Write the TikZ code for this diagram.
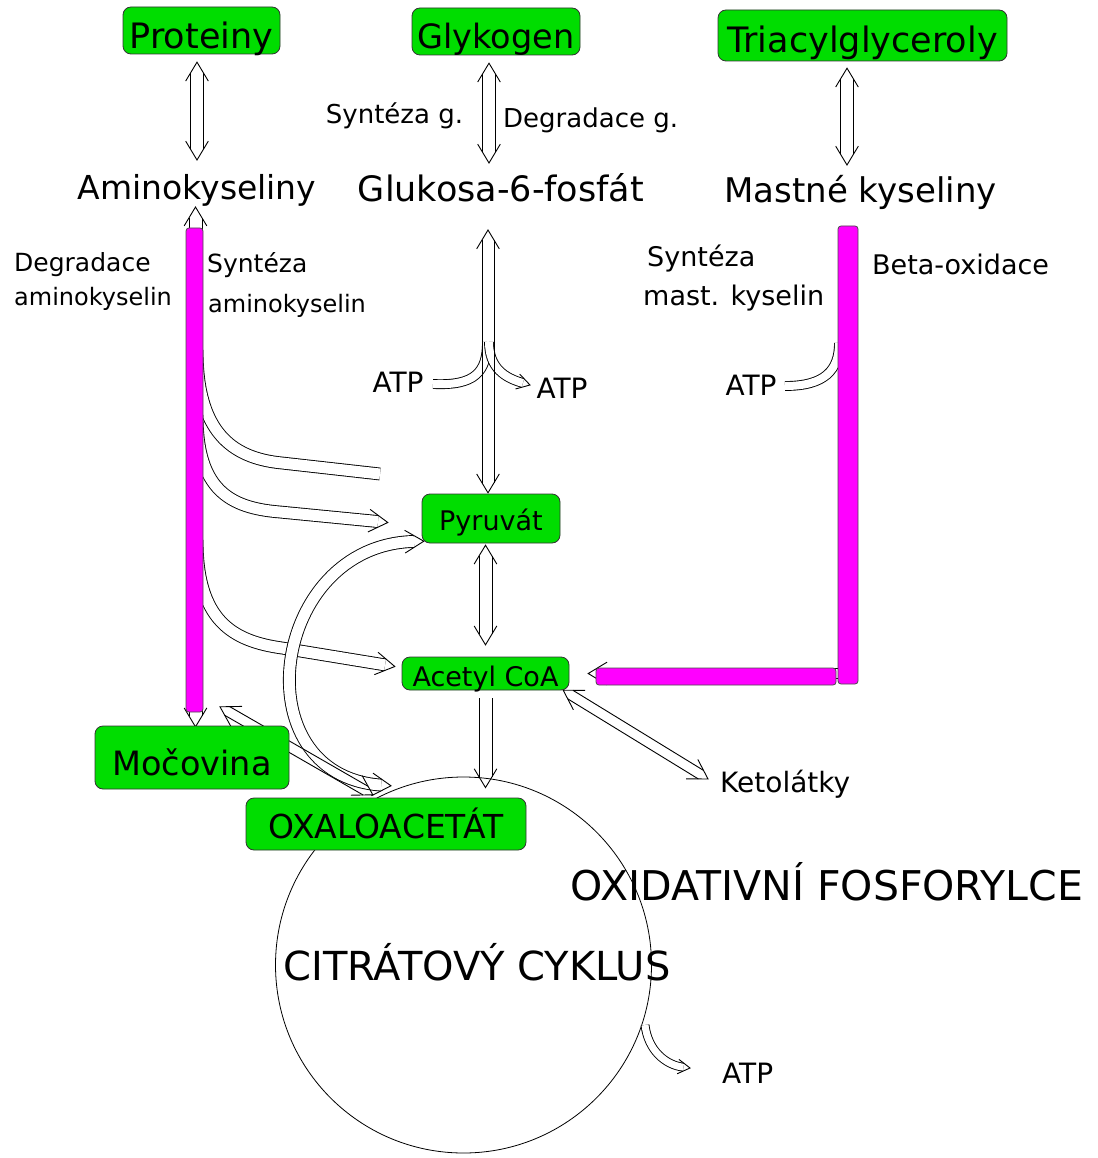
\documentclass[tikz,border=0pt]{standalone}
\usepackage{fontspec}
\setmainfont{DejaVu Sans}
\usetikzlibrary{arrows.meta,calc}
\definecolor{gfill}{RGB}{0,221,0}
\definecolor{mag}{RGB}{255,0,255}
% open chevron arrow head: [barb length]{tip}{point behind tip}
\newcommand{\ahead}[3][22pt]{\draw[headln] ($(#2)!#1!31:(#3)$) -- (#2) -- ($(#2)!#1!-31:(#3)$);}
% straight hollow shaft: {start}{end}{half width}{cut at start}{cut at end}
\newcommand{\shaft}[5]{%
  \draw[headln] ($(#1)!#4!(#2)!#3!90:(#2)$) -- ($(#2)!#5!(#1)!#3!-90:(#1)$);
  \draw[headln] ($(#1)!#4!(#2)!#3!-90:(#2)$) -- ($(#2)!#5!(#1)!#3!90:(#1)$);}
\begin{document}
\begin{tikzpicture}[x=1pt,y=-1pt,
  fs/.style={font=\fontsize{#1}{#1}\selectfont},
  gbox/.style={draw=black!80, fill=gfill, rounded corners=8pt, line width=0.8pt, inner sep=0pt, text depth=0pt},
  lbl/.style={inner sep=0pt},
  dl/.style={double=white, double distance=#1, line width=0.9pt},
  dl/.default=12pt,
  headln/.style={line width=0.9pt, line join=miter, line cap=butt},
  magbar/.style={fill=mag, draw=black!70, line width=0.8pt, rounded corners=3pt}
]
\useasboundingbox (0,0) rectangle (1097,1158);
\fill[white] (0,0) rectangle (1097,1158);

% text labels
\node[lbl, fs=33, anchor=base] (amino) at (197,200) {Aminokyseliny};
\node[lbl, fs=35, anchor=base] (g6p) at (501,202) {Glukosa-6-fosfát};
\node[lbl, fs=34, anchor=base] (mk) at (860.5,203) {Mastné kyseliny};
\node[lbl, fs=26, anchor=base] (synG) at (394.5,124) {Syntéza g.};
\node[lbl, fs=26, anchor=base west] (degG) at (503,128) {Degradace g.};
\node[lbl, fs=25, anchor=base west] (degA1) at (14,271) {Degradace};
\node[lbl, fs=24, anchor=base west] (degA2) at (14,305) {aminokyselin};
\node[lbl, fs=25, anchor=base west] (synA1) at (207,272) {Syntéza};
\node[lbl, fs=24, anchor=base west] (synA2) at (208,312) {aminokyselin};
\node[lbl, fs=27, anchor=base west] (synM1) at (647,266) {Syntéza};
\node[lbl, fs=27, anchor=base west] (synM2) at (643,305) {mast. kyselin};
\node[lbl, fs=27, anchor=base west] (beta) at (872,274) {Beta-oxidace};
\node[lbl, fs=28, anchor=base] (atp1) at (398,392) {ATP};
\node[lbl, fs=28, anchor=base] (atp2) at (562,398) {ATP};
\node[lbl, fs=28, anchor=base] (atp3) at (751,395) {ATP};
\node[lbl, fs=28, anchor=base west] (atp4) at (722,1083) {ATP};
\node[lbl, fs=28, anchor=base west] (keto) at (720,792) {Ketolátky};

% citrate cycle circle
\node[draw, circle, minimum size=376pt, inner sep=0pt, line width=0.8pt] (tca) at (463.5,965) {};
\node[lbl, fs=41, anchor=base] (oxfos) at (827,900) {OXIDATIVNÍ FOSFORYLCE};
\node[lbl, fs=40, anchor=base] (citr) at (477,980) {CITRÁTOVÝ CYKLUS};

% green boxes (geometry only, redrawn with text on top later)
\coordinate (protC) at (201.5,30.5);
\coordinate (glykC) at (496,31.5);
\coordinate (tagC) at (862.5,35.5);
\coordinate (pyrC) at (491,518.5);
\coordinate (acoaC) at (485.5,673.5);
\coordinate (mocC) at (192,757.5);
\coordinate (oaaC) at (386,824);
\path
  node[inner sep=0pt, minimum width=157pt, minimum height=47pt] (prot) at (protC) {}
  node[inner sep=0pt, minimum width=168pt, minimum height=47pt] (glyk) at (glykC) {}
  node[inner sep=0pt, minimum width=289pt, minimum height=51pt] (tag) at (tagC) {}
  node[inner sep=0pt, minimum width=138pt, minimum height=49pt] (pyr) at (pyrC) {}
  node[inner sep=0pt, minimum width=167pt, minimum height=33pt] (acoa) at (acoaC) {}
  node[inner sep=0pt, minimum width=194pt, minimum height=63pt] (moc) at (mocC) {}
  node[inner sep=0pt, minimum width=280pt, minimum height=52pt] (oaa) at (oaaC) {};

% ---- connector end points
\coordinate (a1s) at ($(prot.south -| amino.base)+(0,8)$);
\coordinate (a1e) at ($(amino.base)+(0,-40)$);
\coordinate (a2s) at ($(glyk.south)+(-7,8)$);
\coordinate (a2e) at ($(g6p.base)+(-12,-39)$);
\coordinate (a3s) at ($(tag.south)+(-15.5,7)$);
\coordinate (a3e) at ($(mk.base)+(-13.5,-38)$);
\coordinate (a4s) at ($(amino.base)+(-1.5,7)$);
\coordinate (a4e) at ($(moc.north -| amino.base)+(-1.5,1)$);
\coordinate (a5s) at ($(g6p.base)+(-13,28)$);
\coordinate (a5e) at ($(pyr.north)+(-3,-1)$);
\coordinate (a7s) at ($(pyr.south -| acoa.north)+(0,2)$);
\coordinate (a7e) at ($(acoa.north)+(0,-12)$);
\coordinate (a8s) at ($(acoa.south)+(0,8)$);
\coordinate (a8e) at ($(acoa.south |- tca.north)+(0,11)$);
\coordinate (kes) at ($(acoa.south east)+(-6,0)$);
\coordinate (kee) at ($(keto.base west)+(-12,-13)$);
\coordinate (pos) at ($(pyr.south west)+(2,-2)$);
\coordinate (poe) at ($(oaa.north)+(5,-12)$);
\coordinate (pok1) at (270,545);
\coordinate (pok2) at (240,775);
\coordinate (mos) at ($(moc.north)+(28,-19)$);
\coordinate (moe) at ($(oaa.north west)+(127,-3)$);
\coordinate (bs) at (846,673.5);
\coordinate (be) at ($(acoa.east)+(19,0)$);

% ---- ATP side curves at glucose axis
\coordinate (c1s) at ($(atp1.base)+(35,-8)$);
\coordinate (j1) at ($(g6p.base)+(-14,140)$);
\coordinate (j2) at ($(g6p.base)+(-12,140)$);
\coordinate (c2e) at ($(atp2.base)+(-32,-13)$);
\coordinate (c2k) at ($(c2e)+(-25,-7)$);
\draw[dl=8pt] (c1s) .. controls +(42,2) and +(0,30) .. (j1);
\draw[dl=8pt, shorten >=7.4pt] (j2) .. controls +(0,26) and (c2k) .. (c2e);
\ahead[15pt]{c2e}{c2k}

% ---- vertical main arrows (two-line shafts, open heads)
\shaft{a1s}{a1e}{6.5pt}{10.8pt}{10.8pt} \ahead{a1s}{a1e}\ahead{a1e}{a1s}
\shaft{a2s}{a2e}{6.5pt}{10.8pt}{10.8pt} \ahead{a2s}{a2e}\ahead{a2e}{a2s}
\shaft{a3s}{a3e}{6.5pt}{10.8pt}{10.8pt} \ahead{a3s}{a3e}\ahead{a3e}{a3s}
\shaft{a4s}{a4e}{6.5pt}{10.8pt}{10.8pt} \ahead{a4s}{a4e}\ahead{a4e}{a4s}
\shaft{a5s}{a5e}{6pt}{10pt}{10pt} \ahead{a5s}{a5e}\ahead{a5e}{a5s}
\shaft{a7s}{a7e}{6.5pt}{10.8pt}{10.8pt} \ahead{a7s}{a7e}\ahead{a7e}{a7s}
\shaft{a8s}{a8e}{6.5pt}{0pt}{10.8pt} \ahead{a8e}{a8s}

% ---- amino acid degradation curves
\coordinate (sA) at (197,350);
\coordinate (eA) at (380,474);
\coordinate (sB) at (197,415);
\coordinate (kB) at (280,512);
\coordinate (eB) at ($(pyr.west)+(-34,4)$);
\coordinate (sC) at (197,540);
\coordinate (kC) at (282,648);
\coordinate (eC) at ($(acoa.west)+(-7,-7)$);
\draw[dl=11pt] (sA) .. controls (197,430) and (230,458) .. (282,463) -- (eA);
\draw[dl=11pt, shorten >=9.9pt] (sB) .. controls (197,490) and (230,508) .. (kB) -- (eB);
\ahead{eB}{kB}
\draw[dl=11pt, shorten >=9.9pt] (sC) .. controls (197,620) and (232,641) .. (kC) -- (eC);
\ahead{eC}{kC}

% ---- other arrows
\shaft{kes}{kee}{5pt}{8.3pt}{8.3pt} \ahead{kes}{kee}\ahead{kee}{kes}
\draw[dl=11pt, shorten <=9.9pt, shorten >=9.9pt] (pos) .. controls (pok1) and (pok2) .. (poe);
\ahead{pos}{pok1}\ahead{poe}{pok2}
\shaft{mos}{moe}{5pt}{8.3pt}{8.3pt} \ahead{mos}{moe}\ahead{moe}{mos}
\shaft{bs}{be}{5pt}{0pt}{8.3pt} \ahead{be}{bs}

\coordinate (m1) at (839,343);
\coordinate (c3s) at ($(atp3.base)+(34,-9)$);
\draw[dl=8pt] (c3s) .. controls +(40,0) and +(0,27) .. (m1);

\coordinate (t1) at (645,1025);
\coordinate (t2) at ($(atp4.base west)+(-32,-15)$);
\coordinate (tk) at ($(t2)+(-25,-3)$);
\draw[dl=7pt, shorten >=6.6pt] (t1) .. controls +(3,25) and (tk) .. (t2);
\ahead[14pt]{t2}{tk}

% magenta bars
\filldraw[magbar] (186,228) rectangle (203,712);
\filldraw[magbar] (838,226) rectangle (858,684);
\filldraw[magbar] (596,668) rectangle (836,685);

% green boxes with text
\node[gbox, fs=35, minimum width=157pt, minimum height=47pt, text height=37pt] at (protC) {Proteiny};
\node[gbox, fs=33.5, minimum width=168pt, minimum height=47pt, text height=35pt] at (glykC) {Glykogen};
\node[gbox, fs=35, minimum width=289pt, minimum height=51pt, text height=35pt] at (tagC) {Triacylglyceroly};
\node[gbox, fs=27, minimum width=138pt, minimum height=49pt, text height=23pt] at (pyrC) {Pyruvát};
\node[gbox, fs=27, minimum width=167pt, minimum height=33pt, text height=25pt] at (acoaC) {Acetyl CoA};
\node[gbox, fs=33.5, minimum width=194pt, minimum height=63pt, text height=35pt] at (mocC) {Močovina};
\node[gbox, fs=33, minimum width=280pt, minimum height=52pt, text height=28pt] at (oaaC) {OXALOACETÁT};
\end{tikzpicture}
\end{document}
